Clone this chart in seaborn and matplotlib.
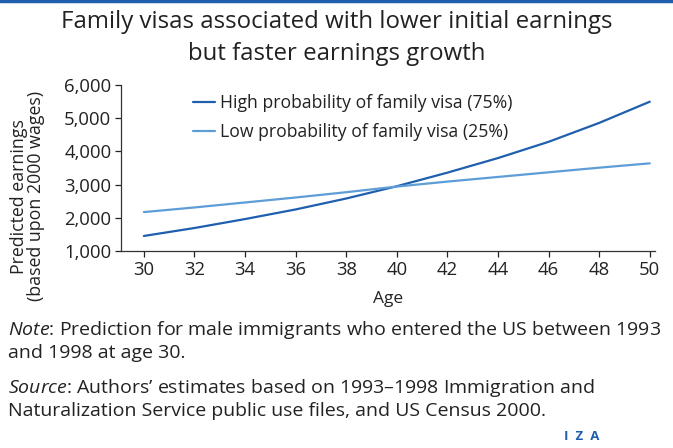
import numpy as np
import pandas as pd
import matplotlib
matplotlib.use('Agg')
import matplotlib.pyplot as plt
import seaborn as sns
from matplotlib.lines import Line2D

# Data
age = [30, 32, 34, 36, 38, 40, 42, 44, 46, 48, 50]
high_visa = [1450, 1690, 1960, 2250, 2580, 2950, 3360, 3800, 4290, 4860, 5500]
low_visa = [2170, 2310, 2460, 2610, 2770, 2940, 3090, 3230, 3370, 3510, 3640]
series_names = ['High probability of family visa (75%)', 'Low probability of family visa (25%)']

df = pd.DataFrame({
    'Age': age * 2,
    'Earnings': high_visa + low_visa,
    'Series': [series_names[0]] * len(age) + [series_names[1]] * len(age),
})

sns.set_style('ticks')
plt.rcParams['font.family'] = ['Open Sans', 'DejaVu Sans']
plt.rcParams['mathtext.fontset'] = 'custom'
plt.rcParams['mathtext.it'] = 'Open Sans:italic'
plt.rcParams['mathtext.rm'] = 'Open Sans'
text_color = '#222222'

fig = plt.figure(figsize=(6.73, 4.48), dpi=100)
ax = fig.add_axes([0.180, 0.440, 0.793, 0.370])

palette = {series_names[0]: '#1f5fae', series_names[1]: '#5e9dd6'}
sns.lineplot(data=df, x='Age', y='Earnings', hue='Series', palette=palette,
             linewidth=1.6, ax=ax, legend=False)

ax.set_xlim(29.1, 50.2)
ax.set_ylim(1000, 6000)
ax.set_xticks(range(30, 51, 2))
ax.set_yticks(range(1000, 6001, 1000))
ax.set_yticklabels([f'{v:,}' for v in range(1000, 6001, 1000)])
ax.tick_params(labelsize=13.3, colors=text_color, length=4, width=0.9, pad=3)
sns.despine(ax=ax)
for s in ['left', 'bottom']:
    ax.spines[s].set_color('#333333')
    ax.spines[s].set_linewidth(0.9)

ax.set_xlabel('Age', fontsize=12.5, color=text_color, labelpad=9)
ax.set_ylabel('Predicted earnings\n(based upon 2000 wages)', fontsize=12.8,
              color=text_color, linespacing=0.92)
ax.yaxis.set_label_coords(-0.142, 0.33)

handles = [Line2D([], [], color=palette[n], lw=1.6) for n in series_names]
ax.legend(handles, series_names, loc='upper left', bbox_to_anchor=(0.105, 1.04),
          frameon=False, fontsize=12.7, handlelength=1.25, handletextpad=0.3,
          labelspacing=0.62, labelcolor=text_color)

fig.text(0.5, 0.977, 'Family visas associated with lower initial earnings\nbut faster earnings growth',
         ha='center', va='top', fontsize=17.3, color=text_color, linespacing=1.42)

fig.text(0.012, 0.288, r'$\it{Note}$: Prediction for male immigrants who entered the US between 1993' + '\nand 1998 at age 30.',
         ha='left', va='top', fontsize=14, color=text_color, linespacing=1.2)
fig.text(0.012, 0.158, r'$\it{Source}$: Authors’ estimates based on 1993–1998 Immigration and' + '\nNaturalization Service public use files, and US Census 2000.',
         ha='left', va='top', fontsize=14, color=text_color, linespacing=1.2)

fig.text(0.864, 0.012, 'I  Z  A', ha='center', va='bottom', fontsize=9.5,
         color='#1f5fae', fontweight='bold')

# Top blue rule
fig.add_artist(Line2D([0, 1], [0.997, 0.997], color='#1f5fae', lw=2.5,
                      transform=fig.transFigure))

fig.savefig('out.png', dpi=100)
